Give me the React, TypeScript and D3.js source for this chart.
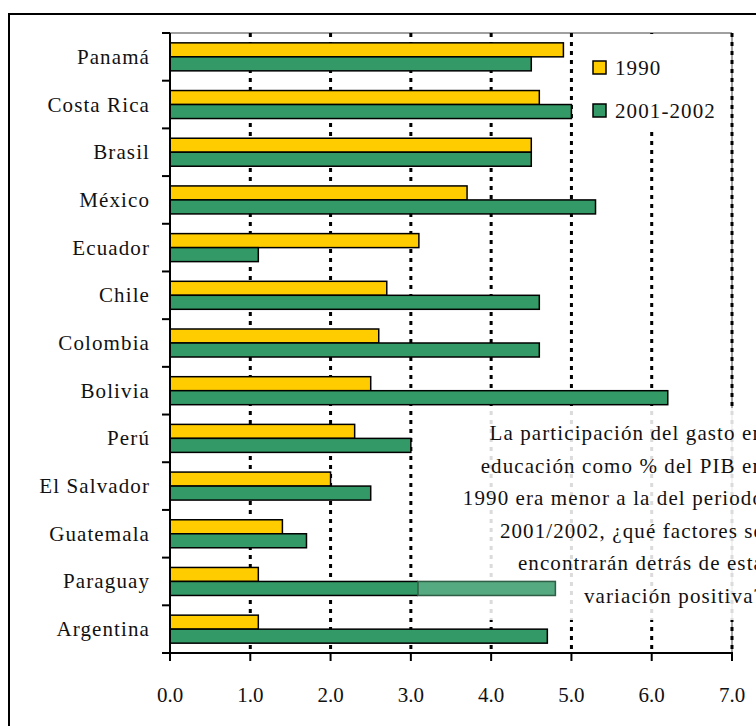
import React from "react";
import * as d3 from "d3";

const categories = ["Panamá", "Costa Rica", "Brasil", "México", "Ecuador", "Chile", "Colombia", "Bolivia", "Perú", "El Salvador", "Guatemala", "Paraguay", "Argentina"];
const values1990 = [4.9, 4.6, 4.5, 3.7, 3.1, 2.7, 2.6, 2.5, 2.3, 2.0, 1.4, 1.1, 1.1];
const values2001 = [4.5, 5.0, 4.5, 5.3, 1.1, 4.6, 4.6, 6.2, 3.0, 2.5, 1.7, 4.8, 4.7];
const xTicks = [0, 1, 2, 3, 4, 5, 6, 7];
const seriesNames = ["1990", "2001-2002"];
const annotationLines = [
  "La participación del gasto en",
  "educación como % del PIB en",
  "1990 era menor a la del periodo",
  "2001/2002, ¿qué factores se",
  "encontrarán detrás de esta",
  "variación positiva?",
];

const YELLOW = "#FFCC00";
const GREEN = "#339966";
const FONT = "Liberation Serif";

export default function App() {
  const left = 170, right = 732, top = 33, bottom = 653;
  const x = d3.scaleLinear().domain([0, 7]).range([left, right]);
  const y = d3.scaleBand<string>().domain(categories).range([top, bottom]).padding(0);
  const barH = 14;
  const boxX = 418, boxY = 408, boxB = 620;
  const paraIdx = categories.indexOf("Paraguay");
  const textStyle = { fontFamily: FONT, fontSize: "21px" } as React.CSSProperties;

  return (
    <svg width={756} height={726} style={{ position: "absolute", left: 0, top: 0, background: "white" }}>
      {/* outer frame */}
      <rect x={9} y={14} width={900} height={900} fill="white" stroke="black" strokeWidth={2} />

      {/* plot border (gray) */}
      <line x1={left} x2={right} y1={top} y2={top} stroke="#808080" strokeWidth={1.5} />
      <line x1={right} x2={right} y1={top} y2={bottom} stroke="#808080" strokeWidth={1.5} />

      {/* gridlines */}
      {xTicks.filter((t) => t > 0).map((t) => (
        <line key={"g" + t} x1={x(t)} x2={x(t)} y1={top} y2={bottom} stroke="black" strokeWidth={3} strokeDasharray="4,5" />
      ))}

      {/* legend background */}
      <rect x={582} y={top + 1} width={146} height={94} fill="white" />

      {/* bars */}
      {categories.map((c, i) => {
        const cy = (y(c) as number) + y.bandwidth() / 2;
        return (
          <g key={c}>
            <rect x={x(0)} y={cy - barH} width={x(values1990[i]) - x(0)} height={barH} fill={YELLOW} stroke="black" strokeWidth={1.5} />
            <rect x={x(0)} y={cy} width={x(values2001[i]) - x(0)} height={barH} fill={GREEN} stroke="black" strokeWidth={1.5} />
          </g>
        );
      })}

      {/* annotation box */}
      <rect x={boxX} y={boxY} width={400} height={boxB - boxY} fill="white" fillOpacity={0.86} />
      {(() => {
        const cy = (y("Paraguay") as number) + y.bandwidth() / 2;
        return (
          <rect x={boxX} y={cy} width={x(values2001[paraIdx]) - boxX} height={barH} fill={GREEN} fillOpacity={0.8} stroke="#2f5f46" strokeWidth={1.5} />
        );
      })()}
      {annotationLines.map((l, i) => (
        <text key={"a" + i} x={764} y={440 + i * 32.6} textAnchor="end" style={textStyle} letterSpacing={1.1} fill="#111">
          {l}
        </text>
      ))}

      {/* left axis */}
      <line x1={left} x2={left} y1={top} y2={bottom} stroke="black" strokeWidth={2} />
      {categories.map((c) => (
        <line key={"t" + c} x1={left - 8} x2={left} y1={y(c) as number} y2={y(c) as number} stroke="black" strokeWidth={2} />
      ))}
      <line x1={left - 8} x2={left} y1={bottom} y2={bottom} stroke="black" strokeWidth={2} />
      {categories.map((c) => (
        <text key={"l" + c} x={150} y={(y(c) as number) + y.bandwidth() / 2 + 7} textAnchor="end" style={textStyle} letterSpacing={1.1} fill="#111">
          {c}
        </text>
      ))}

      {/* bottom axis */}
      <line x1={left - 8} x2={right + 1} y1={bottom} y2={bottom} stroke="black" strokeWidth={2} />
      {xTicks.map((t) => (
        <g key={"x" + t}>
          <line x1={x(t)} x2={x(t)} y1={bottom} y2={bottom + 8} stroke="black" strokeWidth={2} />
          <text x={x(t)} y={702} textAnchor="middle" style={textStyle} fill="#111">
            {d3.format(".1f")(t)}
          </text>
        </g>
      ))}

      {/* legend */}
      {seriesNames.map((s, i) => (
        <g key={"lg" + s}>
          <rect x={593} y={61 + i * 43} width={13} height={13} fill={i === 0 ? YELLOW : GREEN} stroke="black" strokeWidth={1.5} />
          <text x={615} y={75 + i * 43} style={textStyle} letterSpacing={1.1} fill="#111">
            {s}
          </text>
        </g>
      ))}
    </svg>
  );
}
